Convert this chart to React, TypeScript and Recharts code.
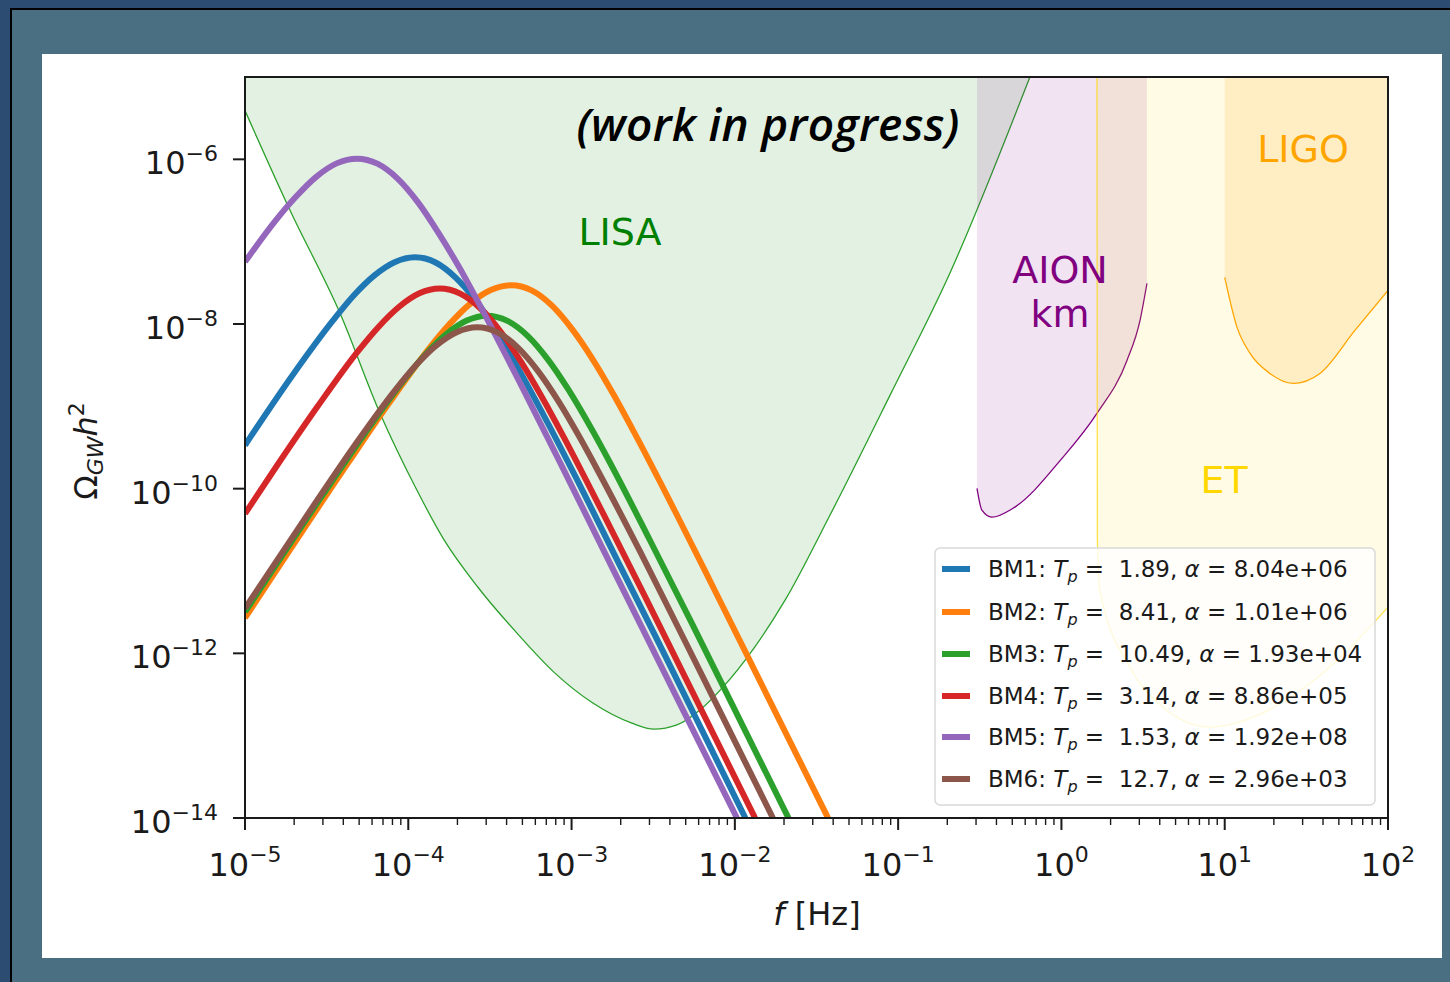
import React from 'react'
import { ComposedChart, Line, Area, XAxis, YAxis } from 'recharts'

// GW spectra of six benchmark points vs. detector sensitivity regions.
// Values: [f in Hz, Omega_GW h^2].

type Pt = [number, number]

const NAMES = ['BM1', 'BM2', 'BM3', 'BM4', 'BM5', 'BM6']
const TP = ['1.89', '8.41', '10.49', '3.14', '1.53', '12.7']
const ALPHA = ['8.04e+06', '1.01e+06', '1.93e+04', '8.86e+05', '1.92e+08', '2.96e+03']
const COLORS = ['#1f77b4', '#ff7f0e', '#2ca02c', '#d62728', '#9467bd', '#8c564b']

const BM1: Pt[] = [
  [1.0e-5, 3.37e-10], [1.95e-5, 2.37e-9], [3.48e-5, 1.12e-8], [4.63e-5, 2.22e-8],
  [6.18e-5, 3.87e-8], [8.24e-5, 5.63e-8], [1.10e-4, 6.46e-8], [1.47e-4, 5.59e-8],
  [1.95e-4, 3.66e-8], [2.61e-4, 1.88e-8], [3.48e-4, 8.09e-9], [4.63e-4, 3.08e-9],
  [6.18e-4, 1.08e-9], [1.10e-3, 1.20e-10], [1.95e-3, 1.23e-11], [3.48e-3, 1.25e-12],
  [1.16e-2, 1.0e-14],
]
const BM2: Pt[] = [
  [1.0e-5, 2.69e-12], [4.27e-5, 2.04e-10], [7.59e-5, 1.08e-9], [1.35e-4, 5.14e-9],
  [1.80e-4, 1.01e-8], [2.40e-4, 1.77e-8], [3.20e-4, 2.58e-8], [4.27e-4, 2.95e-8],
  [5.69e-4, 2.56e-8], [7.59e-4, 1.67e-8], [1.01e-3, 8.60e-9], [1.35e-3, 3.70e-9],
  [1.80e-3, 1.41e-9], [2.40e-3, 4.96e-10], [4.27e-3, 5.47e-11], [7.59e-3, 5.64e-12],
  [1.35e-2, 5.70e-13], [3.72e-2, 1.0e-14],
]
const BM3: Pt[] = [
  [1.0e-5, 3.18e-12], [3.03e-5, 8.69e-11], [5.40e-5, 4.62e-10], [9.59e-5, 2.19e-9],
  [1.28e-4, 4.32e-9], [1.71e-4, 7.54e-9], [2.28e-4, 1.10e-8], [3.03e-4, 1.26e-8],
  [4.05e-4, 1.09e-8], [5.40e-4, 7.13e-9], [7.19e-4, 3.67e-9], [9.59e-4, 1.58e-9],
  [1.28e-3, 6.00e-10], [1.71e-3, 2.11e-10], [3.03e-3, 2.33e-11], [5.40e-3, 2.41e-12],
  [9.59e-3, 2.43e-13], [2.13e-2, 1.0e-14],
]
const BM4: Pt[] = [
  [1.0e-5, 4.97e-11], [1.56e-5, 1.87e-10], [2.78e-5, 9.93e-10], [4.94e-5, 4.71e-9],
  [6.59e-5, 9.28e-9], [8.79e-5, 1.62e-8], [1.17e-4, 2.36e-8], [1.56e-4, 2.70e-8],
  [2.08e-4, 2.34e-8], [2.78e-4, 1.53e-8], [3.71e-4, 7.88e-9], [4.94e-4, 3.39e-9],
  [6.59e-4, 1.29e-9], [8.79e-4, 4.54e-10], [1.56e-3, 5.01e-11], [2.78e-3, 5.17e-12],
  [4.94e-3, 5.22e-13], [1.33e-2, 1.0e-14],
]
const BM5: Pt[] = [
  [1.0e-5, 5.69e-8], [1.53e-5, 1.78e-7], [2.05e-5, 3.51e-7], [2.73e-5, 6.13e-7],
  [3.64e-5, 8.93e-7], [4.85e-5, 1.02e-6], [6.47e-5, 8.86e-7], [8.63e-5, 5.80e-7],
  [1.15e-4, 2.98e-7], [1.53e-4, 1.28e-7], [2.05e-4, 4.88e-8], [2.73e-4, 1.72e-8],
  [4.85e-4, 1.90e-9], [8.63e-4, 1.96e-10], [1.53e-3, 1.98e-11], [4.85e-3, 1.99e-13],
  [1.03e-2, 1.0e-14],
]
const BM6: Pt[] = [
  [1.0e-5, 3.52e-12], [2.64e-5, 6.30e-11], [4.69e-5, 3.35e-10], [8.34e-5, 1.59e-9],
  [1.11e-4, 3.13e-9], [1.48e-4, 5.46e-9], [1.98e-4, 7.96e-9], [2.64e-4, 9.12e-9],
  [3.52e-4, 7.90e-9], [4.69e-4, 5.17e-9], [6.25e-4, 2.66e-9], [8.34e-4, 1.14e-9],
  [1.11e-3, 4.35e-10], [1.48e-3, 1.53e-10], [2.64e-3, 1.69e-11], [4.69e-3, 1.74e-12],
  [8.34e-3, 1.76e-13], [1.71e-2, 1.0e-14],
]
const BMS = [BM1, BM2, BM3, BM4, BM5, BM6]

// detector sensitivity curves (region above each curve is shaded)
const LISA: Pt[] = [
  [1.0e-5, 3.91e-6], [1.89e-5, 2.39e-7], [3.82e-5, 1.35e-8], [6.71e-5, 8.22e-10],
  [1.13e-4, 9.55e-11], [1.66e-4, 2.37e-11], [2.67e-4, 6.35e-12], [4.63e-4, 1.76e-12],
  [7.91e-4, 5.75e-13], [1.35e-3, 2.49e-13], [2.34e-3, 1.42e-13], [3.2e-3, 1.2e-13],
  [4.42e-3, 1.35e-13], [6.11e-3, 2.05e-13], [8.45e-3, 3.89e-13], [1.31e-2, 1.16e-12],
  [2.03e-2, 4.42e-12], [3.82e-2, 4.75e-11], [8.91e-2, 1.36e-9], [0.207, 4.11e-8],
  [0.641, 1.0e-5],
]
const AION: Pt[] = [
  [0.304, 1.01e-10], [0.326, 5.47e-11], [0.375, 4.5e-11], [0.505, 5.78e-11],
  [1.02, 2.4e-10], [1.65, 8.22e-10], [2.52, 3.61e-9], [3.03, 1.11e-8], [3.34, 3.11e-8],
]
const ET: Pt[] = [
  [1.65, 1.0e-5], [1.66, 2.37e-11], [1.72, 5.85e-12], [2.62, 6.81e-13], [4.19, 2.22e-13],
  [8.11, 1.27e-13], [17.1, 1.88e-13], [44.1, 6.81e-13], [100, 3.64e-12],
]
const LIGO: Pt[] = [
  [10.0, 3.68e-8], [11.9, 9.1e-9], [14.3, 4.4e-9], [18.9, 2.51e-9], [26.2, 1.9e-9],
  [38.3, 2.51e-9], [62.7, 8.36e-9], [100, 2.56e-8],
]

const X_MAJOR = [1e-5, 1e-4, 1e-3, 1e-2, 1e-1, 1, 10, 100]
const X_MINOR_STEPS = [2, 3, 4, 5, 6, 7, 8, 9]
const Y_TICKS = [1e-14, 1e-12, 1e-10, 1e-8, 1e-6]
const X_DOMAIN = [1e-5, 100]
const Y_TOP = 1e-5
const Y_DOMAIN = [1e-14, Y_TOP]

const X_TICKS = [
  ...X_MAJOR,
  ...X_MAJOR.slice(0, -1).flatMap((d) => X_MINOR_STEPS.map((m) => m * d)),
].sort((a, b) => a - b)

const rows = (pts: Pt[]) => pts.map(([f, omega]) => ({ f, omega }))

const INK = '#1a1a1a'
const FONT = 'DejaVu Sans, sans-serif'
const W = 1450
const H = 982

const expText = (v: number) => {
  const e = Math.round(Math.log10(v))
  return e < 0 ? '\u2212' + Math.abs(e) : String(e)
}

function XTick({ x, y, payload }: any) {
  const v = payload.value
  const major = X_MAJOR.some((m) => Math.abs(m - v) / m < 1e-9)
  return (
    <g>
      <line x1={x} x2={x} y1={y} y2={y + (major ? 12 : 7)} stroke={INK} strokeWidth={major ? 2 : 1.4} />
      {major && (
        <text x={x} y={y + 58} textAnchor="middle" fontFamily={FONT} fontSize={32} fill={INK}>
          10<tspan dy={-14} fontSize={22}>{expText(v)}</tspan>
        </text>
      )}
    </g>
  )
}

function YTick({ x, y, payload }: any) {
  return (
    <g>
      <line x1={x - 12} x2={x} y1={y} y2={y} stroke={INK} strokeWidth={2} />
      <text x={x - 27} y={y + 15} textAnchor="end" fontFamily={FONT} fontSize={32} fill={INK}>
        10<tspan dy={-13} fontSize={22}>{expText(payload.value)}</tspan>
      </text>
    </g>
  )
}

function Overlay() {
  const rowY = [569, 612, 654, 696, 737, 779]
  return (
    <svg width={W} height={H} style={{ position: 'absolute', left: 0, top: 0, pointerEvents: 'none' }}>
      {/* plot frame */}
      <rect x={245} y={77} width={1143} height={741} fill="none" stroke={INK} strokeWidth={2} />

      {/* region labels */}
      <text x={768} y={141} textAnchor="middle" fontFamily="Open Sans, sans-serif" fontStyle="italic"
        fontWeight={600} fontSize={46} fill="#000" letterSpacing={0.3}>(work in progress)</text>
      <text x={620} y={245} textAnchor="middle" fontFamily={FONT} fontSize={38} fill="#008000">LISA</text>
      <text x={1060} y={283} textAnchor="middle" fontFamily={FONT} fontSize={38} fill="#800080">AION</text>
      <text x={1060} y={327} textAnchor="middle" fontFamily={FONT} fontSize={38} fill="#800080">km</text>
      <text x={1224} y={493} textAnchor="middle" fontFamily={FONT} fontSize={38} fill="#ffd700">ET</text>
      <text x={1303} y={162} textAnchor="middle" fontFamily={FONT} fontSize={38} fill="#ffa500">LIGO</text>

      {/* axis titles */}
      <text x={817} y={925} textAnchor="middle" fontFamily={FONT} fontSize={32} fill={INK}>
        <tspan fontStyle="italic">f</tspan> [Hz]
      </text>
      <text transform="translate(97,451) rotate(-90)" textAnchor="middle" fontFamily={FONT} fontSize={32} fill={INK}>
        Ω<tspan fontStyle="italic" fontSize={22} dy={6}>GW</tspan>
        <tspan fontStyle="italic" dy={-6}>h</tspan>
        <tspan fontSize={22} dy={-13}>2</tspan>
      </text>

      {/* legend */}
      <rect x={935} y={548} width={440} height={257} rx={5} fill="#fff" fillOpacity={0.8} stroke="#d9d9d9" strokeWidth={1.5} />
      {NAMES.map((n, i) => (
        <g key={n}>
          <line x1={942} x2={970} y1={rowY[i]} y2={rowY[i]} stroke={COLORS[i]} strokeWidth={6} />
          <text x={988} y={rowY[i] + 8} fontFamily={FONT} fontSize={23} fill={INK} style={{ whiteSpace: 'pre' }}>
            {n}: <tspan fontStyle="italic">T</tspan>
            <tspan fontStyle="italic" fontSize={16} dy={5}>p</tspan>
            <tspan dy={-5}>{' =  ' + TP[i] + ', '}</tspan>
            <tspan fontStyle="italic">α</tspan>
            <tspan>{' = ' + ALPHA[i]}</tspan>
          </text>
        </g>
      ))}
    </svg>
  )
}

export default function App() {
  return (
    <div style={{ position: 'absolute', left: 0, top: 0, width: W, height: H, overflow: 'hidden', background: '#2d4c71' }}>
      <div style={{ position: 'absolute', left: 10, top: 8, right: 0, bottom: 0, background: '#4a6e82', borderLeft: '2px solid #000', borderTop: '2px solid #000' }} />
      <div style={{ position: 'absolute', left: 42, top: 54, width: 1400, height: 904, background: '#fff' }} />
      <div style={{ position: 'absolute', left: 0, top: 0 }}>
        <ComposedChart width={W} height={H} margin={{ top: 77, right: 62, bottom: 104, left: 145 }}>
          <XAxis dataKey="f" type="number" scale="log" domain={X_DOMAIN} ticks={X_TICKS} interval={0}
            allowDataOverflow height={60} tickSize={0} tickMargin={0} tickLine={false} axisLine={false} tick={<XTick />} />
          <YAxis dataKey="omega" type="number" scale="log" domain={Y_DOMAIN} ticks={Y_TICKS} interval={0}
            allowDataOverflow width={100} tickSize={0} tickMargin={0} tickLine={false} axisLine={false} tick={<YTick />} />

          <Area data={rows(LISA)} dataKey="omega" type="monotone" baseValue={Y_TOP} fill="#008000" fillOpacity={0.11}
            stroke="#2ca02c" strokeWidth={1.3} isAnimationActive={false} />
          <Area data={rows(AION)} dataKey="omega" type="monotone" baseValue={Y_TOP} fill="#800080" fillOpacity={0.11}
            stroke="#800080" strokeWidth={1.3} isAnimationActive={false} />
          <Area data={rows(ET)} dataKey="omega" type="monotone" baseValue={Y_TOP} fill="#ffd700" fillOpacity={0.1}
            stroke="#ffd700" strokeOpacity={0.7} strokeWidth={1.3} isAnimationActive={false} />
          <Area data={rows(LIGO)} dataKey="omega" type="monotone" baseValue={Y_TOP} fill="#ffa500" fillOpacity={0.14}
            stroke="#ffa500" strokeWidth={1.3} isAnimationActive={false} />

          {BMS.map((pts, i) => (
            <Line key={NAMES[i]} data={rows(pts)} dataKey="omega" name={NAMES[i]} type="monotone"
              stroke={COLORS[i]} strokeWidth={6} dot={false} activeDot={false} isAnimationActive={false} />
          ))}
        </ComposedChart>
      </div>
      <Overlay />
    </div>
  )
}
